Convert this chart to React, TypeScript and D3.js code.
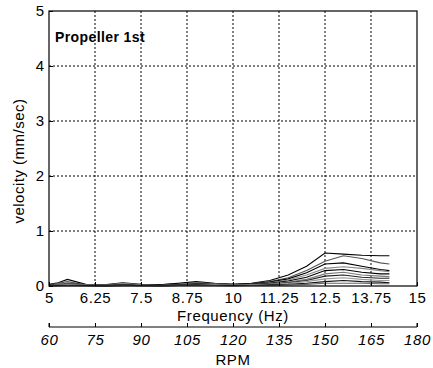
import React, { useEffect, useRef } from "react";
import * as d3 from "d3";

// frequency sample points (Hz)
const freqs = [5, 5.25, 5.5, 6, 6.5, 7, 7.5, 8, 8.5, 9, 9.5, 10, 10.5, 11, 11.5, 12, 12.5, 13, 13.5, 14, 14.25];

// velocity curves (mm/sec), one per measurement
const s1 = [0.03, 0.06, 0.12, 0.03, 0.02, 0.06, 0.03, 0.02, 0.04, 0.06, 0.04, 0.03, 0.05, 0.1, 0.2, 0.36, 0.6, 0.58, 0.56, 0.55, 0.55];
const s2 = [0.02, 0.05, 0.08, 0.02, 0.02, 0.04, 0.02, 0.02, 0.03, 0.05, 0.04, 0.02, 0.04, 0.08, 0.15, 0.28, 0.45, 0.55, 0.5, 0.42, 0.4];
const s3 = [0.02, 0.03, 0.05, 0.02, 0.01, 0.03, 0.02, 0.02, 0.05, 0.08, 0.05, 0.03, 0.04, 0.07, 0.13, 0.24, 0.4, 0.42, 0.36, 0.3, 0.28];
const s4 = [0.01, 0.03, 0.04, 0.02, 0.01, 0.05, 0.02, 0.01, 0.03, 0.06, 0.04, 0.02, 0.03, 0.06, 0.11, 0.2, 0.32, 0.35, 0.32, 0.28, 0.26];
const s5 = [0.01, 0.02, 0.03, 0.01, 0.01, 0.02, 0.01, 0.01, 0.02, 0.04, 0.03, 0.02, 0.03, 0.05, 0.09, 0.16, 0.28, 0.3, 0.25, 0.22, 0.22];
const s6 = [0.01, 0.02, 0.03, 0.01, 0.01, 0.02, 0.01, 0.01, 0.02, 0.03, 0.02, 0.02, 0.02, 0.04, 0.07, 0.12, 0.22, 0.25, 0.2, 0.18, 0.17];
const s7 = [0.01, 0.01, 0.02, 0.01, 0.01, 0.02, 0.01, 0.01, 0.02, 0.03, 0.02, 0.01, 0.02, 0.03, 0.06, 0.1, 0.18, 0.2, 0.16, 0.14, 0.14];
const s8 = [0.01, 0.01, 0.02, 0.01, 0.0, 0.01, 0.01, 0.01, 0.01, 0.02, 0.02, 0.01, 0.02, 0.03, 0.05, 0.08, 0.13, 0.15, 0.12, 0.1, 0.1];
const s9 = [0.0, 0.01, 0.01, 0.01, 0.0, 0.01, 0.01, 0.0, 0.01, 0.02, 0.01, 0.01, 0.01, 0.02, 0.03, 0.05, 0.08, 0.1, 0.08, 0.07, 0.06];
const s10 = [0.0, 0.0, 0.01, 0.0, 0.0, 0.01, 0.0, 0.0, 0.01, 0.01, 0.01, 0.0, 0.01, 0.01, 0.02, 0.03, 0.05, 0.05, 0.05, 0.04, 0.04];

const series = [s1, s2, s3, s4, s5, s6, s7, s8, s9, s10];
const seriesColors = ["#000", "#555", "#000", "#888", "#000", "#777", "#222", "#999", "#111", "#666"];

const freqTicks = [5, 6.25, 7.5, 8.75, 10, 11.25, 12.5, 13.75, 15];
const rpmTicks = [60, 75, 90, 105, 120, 135, 150, 165, 180];
const velTicks = [0, 1, 2, 3, 4, 5];

const App = () => {
  const svgRef = useRef<SVGSVGElement>(null);

  useEffect(() => {
    const svg = d3.select(svgRef.current);
    svg.selectAll("*").remove();

    const left = 49, right = 417, top = 11, bottom = 286;
    const font = "Arial, 'Liberation Sans', sans-serif";

    const x = d3.scaleLinear().domain([5, 15]).range([left, right]);
    const y = d3.scaleLinear().domain([0, 5]).range([bottom, top]);
    const rpm = d3.scaleLinear().domain([60, 180]).range([left, right]);

    svg.append("rect").attr("width", 433).attr("height", 368).attr("fill", "#fff");

    // grid
    const g = svg.append("g");
    g.selectAll("line.vx")
      .data(freqTicks.slice(1, -1))
      .enter()
      .append("line")
      .attr("x1", (d) => x(d))
      .attr("x2", (d) => x(d))
      .attr("y1", top)
      .attr("y2", bottom)
      .attr("stroke", "#000")
      .attr("stroke-width", 1)
      .attr("stroke-dasharray", "2,2");
    g.selectAll("line.hy")
      .data(velTicks.slice(1, -1))
      .enter()
      .append("line")
      .attr("x1", left)
      .attr("x2", right)
      .attr("y1", (d) => y(d))
      .attr("y2", (d) => y(d))
      .attr("stroke", "#000")
      .attr("stroke-width", 1)
      .attr("stroke-dasharray", "2,2");

    // data lines
    const line = d3
      .line<number>()
      .x((_, i) => x(freqs[i]))
      .y((d) => y(d));
    svg.selectAll("path.s")
      .data(series)
      .enter()
      .append("path")
      .attr("d", (d) => line(d))
      .attr("fill", "none")
      .attr("stroke", (_, i) => seriesColors[i])
      .attr("stroke-width", 1.1);

    // box
    svg.append("rect")
      .attr("x", left)
      .attr("y", top)
      .attr("width", right - left)
      .attr("height", bottom - top)
      .attr("fill", "none")
      .attr("stroke", "#000")
      .attr("stroke-width", 1.2);

    // frequency axis
    const xAxis = svg.append("g").attr("transform", `translate(0,${bottom})`)
      .call(d3.axisBottom(x).tickValues(freqTicks).tickFormat((d) => String(d)).tickSize(-4).tickPadding(6));
    xAxis.select(".domain").remove();
    xAxis.selectAll("text").attr("font-size", 15).attr("letter-spacing", 0.6).attr("font-family", font).attr("fill", "#000");

    const yAxis = svg.append("g").attr("transform", `translate(${left},0)`)
      .call(d3.axisLeft(y).tickValues(velTicks).tickFormat(d3.format("d")).tickSize(-4).tickPadding(5));
    yAxis.select(".domain").remove();
    yAxis.selectAll("text").attr("font-size", 15).attr("font-family", font).attr("fill", "#000");

    // rpm axis
    const rAxis = svg.append("g").attr("transform", `translate(0,327)`)
      .call(d3.axisTop(rpm).tickValues(rpmTicks).tickSize(4));
    rAxis.select(".domain").attr("d", `M${left},323V327H${right}V323`).attr("transform", "translate(0,-327)");
    rAxis.selectAll("text")
      .attr("y", 18)
      .attr("font-size", 15)
      .attr("letter-spacing", 0.6)
      .attr("font-style", "italic")
      .attr("font-family", font)
      .attr("fill", "#000");

    svg.append("text").attr("x", x(10)).attr("y", 321).attr("text-anchor", "middle")
      .attr("font-size", 15).attr("letter-spacing", 0.6).attr("font-family", font).text("Frequency (Hz)");
    svg.append("text").attr("x", x(10)).attr("y", 365).attr("text-anchor", "middle")
      .attr("font-size", 15).attr("letter-spacing", 0.6).attr("font-family", font).text("RPM");
    svg.append("text").attr("transform", `translate(24,161) rotate(-90)`)
      .attr("text-anchor", "middle").attr("font-size", 15).attr("letter-spacing", 0.5)
      .attr("font-family", font).text("velocity (mm/sec)");
    svg.append("text").attr("x", 55).attr("y", 42).attr("font-size", 14).attr("font-weight", "bold")
      .attr("letter-spacing", 0.4).attr("font-family", font).text("Propeller 1st");
  }, []);

  return (
    <div style={{ position: "absolute", left: 0, top: 0, width: 433, height: 368 }}>
      <svg ref={svgRef} width={433} height={368} />
    </div>
  );
};

export default App;
